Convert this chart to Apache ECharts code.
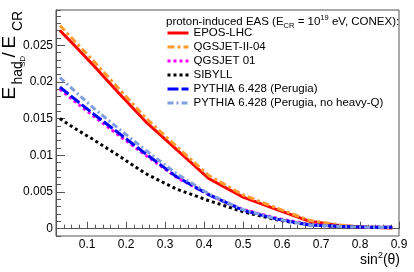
<!DOCTYPE html>
<html><head><meta charset="utf-8">
<script src="https://cdn.jsdelivr.net/npm/echarts@6/dist/echarts.min.js"></script>
<style>html,body{margin:0;padding:0;background:#fff}#c{width:414px;height:272px}</style>
</head><body><div id="c"></div>
<script>
// sin^2(theta) sample positions (theta = 10..70 deg in 5 deg steps)
const sin2theta = [0.030, 0.067, 0.117, 0.179, 0.250, 0.329, 0.413, 0.500, 0.587, 0.671, 0.750, 0.821, 0.883];
const eposLHC   = [0.0270, 0.0250, 0.0222, 0.0186, 0.0146, 0.0108, 0.0068, 0.0043, 0.0026, 0.0010, 0.0004, 0.0002, 0.0001];
const qgsjetII  = [0.0277, 0.0256, 0.0228, 0.0192, 0.0151, 0.0112, 0.0072, 0.0046, 0.0028, 0.0011, 0.0005, 0.0002, 0.0001];
const qgsjet01  = [0.0190, 0.0174, 0.0153, 0.0128, 0.0100, 0.0070, 0.0046, 0.0026, 0.0014, 0.0006, 0.0003, 0.0002, 0.0002];
const sibyll    = [0.0150, 0.0137, 0.0121, 0.0100, 0.0075, 0.0054, 0.0038, 0.0023, 0.0012, 0.0005, 0.0003, 0.0002, 0.0002];
const pythia    = [0.0193, 0.0177, 0.0156, 0.0131, 0.0102, 0.0071, 0.0046, 0.0025, 0.0013, 0.0005, 0.0003, 0.0002, 0.0002];
const pythiaNoQ = [0.0206, 0.0188, 0.0164, 0.0137, 0.0107, 0.0075, 0.0047, 0.0026, 0.0013, 0.0005, 0.0003, 0.0002, 0.0002];

const seriesNames = ['EPOS-LHC', 'QGSJET-II-04', 'QGSJET 01', 'SIBYLL', 'PYTHIA 6.428 (Perugia)', 'PYTHIA 6.428 (Perugia, no heavy-Q)'];
const seriesData = [eposLHC, qgsjetII, qgsjet01, sibyll, pythia, pythiaNoQ];

const xTickValues = [0.1, 0.2, 0.3, 0.4, 0.5, 0.6, 0.7, 0.8, 0.9];
const xTickLabels = ['0.1', '0.2', '0.3', '0.4', '0.5', '0.6', '0.7', '0.8', '0.9'];
const yTickValues = [0, 0.005, 0.01, 0.015, 0.02, 0.025];
const yTickLabels = ['0', '0.005', '0.01', '0.015', '0.02', '0.025'];

const styles = [
  {color: '#ff0000', type: 'solid'},
  {color: '#ff9a2e', type: [7, 3, 3, 3]},
  {color: '#ff00ff', type: [3, 3]},
  {color: '#000000', type: [3, 3]},
  {color: '#0000ff', type: [11, 3]},
  {color: '#7f9fe0', type: [6, 3, 2, 3]}
];

const FONT = '"Liberation Sans", Arial, Helvetica, sans-serif';
const FRAME = '#555';

const chart = echarts.init(document.getElementById('c'), null, {renderer: 'canvas'});

function lookup(vals, labs) {
  return function (v) {
    for (let i = 0; i < vals.length; i++) if (Math.abs(vals[i] - v) < 1e-9) return labs[i];
    return '';
  };
}

const series = seriesNames.map((n, i) => ({
  name: n,
  type: 'line',
  xAxisIndex: 0,
  yAxisIndex: 0,
  data: sin2theta.map((x, j) => [x, seriesData[i][j]]),
  symbol: 'none',
  showSymbol: false,
  lineStyle: {color: styles[i].color, width: 3, type: styles[i].type},
  itemStyle: {color: styles[i].color},
  z: 2 + i,
  animation: false
}));

const option = {
  animation: false,
  grid: {left: 56, right: 15, top: 10, bottom: 36, show: true, borderColor: FRAME, borderWidth: 1, backgroundColor: 'transparent'},
  xAxis: [
    {
      type: 'value', min: 0.02, max: 0.9, position: 'bottom',
      axisLine: {show: true, lineStyle: {color: FRAME, width: 1}},
      axisTick: {show: true, inside: true, length: 7, customValues: xTickValues, lineStyle: {color: FRAME}},
      axisLabel: {show: true, customValues: xTickValues, formatter: lookup(xTickValues, xTickLabels), fontSize: 12, fontFamily: FONT, color: '#000', margin: 3},
      splitLine: {show: false}
    },
    {
      type: 'value', min: 0.02, max: 0.9, interval: 0.02, position: 'bottom', gridIndex: 0,
      axisLine: {show: false},
      axisTick: {show: true, inside: true, length: 4, lineStyle: {color: FRAME}},
      axisLabel: {show: false},
      splitLine: {show: false}
    }
  ],
  yAxis: [
    {
      type: 'value', min: -0.001, max: 0.0298, position: 'left',
      axisLine: {show: true, lineStyle: {color: FRAME, width: 1}},
      axisTick: {show: true, inside: true, length: 9, customValues: yTickValues, lineStyle: {color: FRAME}},
      axisLabel: {show: true, customValues: yTickValues, formatter: lookup(yTickValues, yTickLabels), fontSize: 12, fontFamily: FONT, color: '#000', margin: 3},
      splitLine: {show: false}
    },
    {
      type: 'value', min: -0.001, max: 0.0298, interval: 0.001, position: 'left', gridIndex: 0,
      axisLine: {show: false},
      axisTick: {show: true, inside: true, length: 5, lineStyle: {color: FRAME}},
      axisLabel: {show: false},
      splitLine: {show: false}
    }
  ],
  legend: {
    orient: 'vertical', left: 166, top: 26.5, padding: 0,
    itemWidth: 21, itemHeight: 13, itemGap: 1,
    selectedMode: false,
    itemStyle: {opacity: 0},
    lineStyle: {width: 3},
    textStyle: {fontSize: 11.5, fontFamily: FONT, color: '#000', lineHeight: 13},
    data: seriesNames
  },
  series: series,
  graphic: [
    {
      type: 'text', left: 166, top: 13.5, z: 100,
      style: {
        text: '{n|proton-induced EAS (E}{sub|CR}{n| = 10}{sup|19}{n| eV, CONEX):}',
        rich: {
          n: {fontSize: 11.5, fontFamily: FONT, fill: '#000', lineHeight: 16, verticalAlign: 'middle'},
          sub: {fontSize: 7.5, fontFamily: FONT, fill: '#000', lineHeight: 16, verticalAlign: 'bottom'},
          sup: {fontSize: 7.5, fontFamily: FONT, fill: '#000', lineHeight: 16, verticalAlign: 'top'}
        }
      }
    },
    {
      type: 'group', x: 0, y: 99.5, rotation: Math.PI / 2, z: 100,
      children: [
        {type: 'text', x: 0, y: 9.7, style: {text: 'E', fontSize: 19, fontFamily: FONT, fill: '#000', verticalAlign: 'middle', align: 'left'}},
        {type: 'text', x: 15, y: 18.5, style: {text: 'had', fontSize: 14, fontFamily: FONT, fill: '#000', verticalAlign: 'middle', align: 'left'}},
        {type: 'text', x: 32.5, y: 23, style: {text: 'SD', fontSize: 8, fontFamily: FONT, fill: '#000', verticalAlign: 'middle', align: 'left'}},
        {type: 'text', x: 42, y: 9.7, style: {text: '/', fontSize: 19, fontFamily: FONT, fill: '#000', verticalAlign: 'middle', align: 'left'}},
        {type: 'text', x: 51, y: 9.7, style: {text: 'E', fontSize: 19, fontFamily: FONT, fill: '#000', verticalAlign: 'middle', align: 'left'}},
        {type: 'text', x: 68.5, y: 18.5, style: {text: 'CR', fontSize: 14, fontFamily: FONT, fill: '#000', verticalAlign: 'middle', align: 'left'}}
      ]
    },
    {
      type: 'text', right: 14, top: 251, z: 100,
      style: {
        text: '{n|sin}{sup|2}{n|(θ)}',
        rich: {
          n: {fontSize: 14, fontFamily: FONT, fill: '#000', lineHeight: 18, verticalAlign: 'middle'},
          sup: {fontSize: 9, fontFamily: FONT, fill: '#000', lineHeight: 18, verticalAlign: 'top'}
        }
      }
    }
  ]
};
chart.setOption(option);
</script>
</body></html>
